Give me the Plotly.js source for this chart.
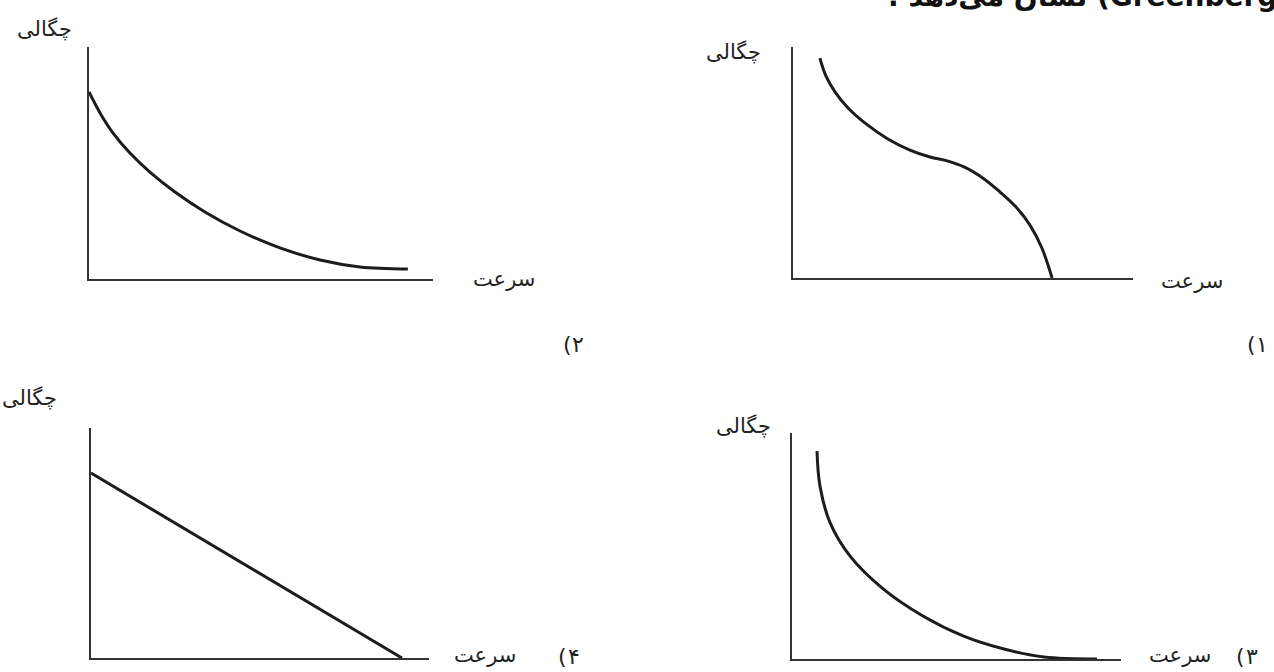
<!DOCTYPE html>
<html>
<head>
<meta charset="utf-8">
<script src="https://cdn.plot.ly/plotly-3.0.1.min.js"></script>
<style>
  body { margin: 0; background: #fff; }
  #chart { width: 1274px; height: 672px; }
</style>
</head>
<body>
<div id="chart"></div>
<script>
// labels
var yLabel = 'چگالی';
var xLabel = 'سرعت';
var optionDigits = ['۱', '۲', '۳', '۴'];
var topLine = '. نشان می‌دهد (Greenberg)';

// option 1 (top right): s-shaped curve
var curve1X = [0.79, 0.97, 1.24, 1.62, 2.15, 2.79, 3.44, 4.03, 4.56, 5.03, 5.62, 6.09, 6.56, 6.97, 7.32, 7.62];
var curve1Y = [9.52, 8.74, 8.05, 7.36, 6.67, 6.02, 5.54, 5.24, 5.06, 4.81, 4.29, 3.72, 3.07, 2.29, 1.30, 0];

// option 2 (top left): decaying curve
var curve2X = [0, 0.32, 0.70, 1.19, 1.77, 2.50, 3.37, 4.39, 5.55, 6.72, 7.88, 9.27];
var curve2Y = [8.06, 7.16, 6.29, 5.43, 4.61, 3.75, 2.89, 2.07, 1.34, 0.82, 0.52, 0.43];

// option 3 (bottom right): steep curve
var curve3X = [0.76, 0.85, 1.16, 1.76, 2.77, 3.98, 5.20, 6.44, 7.66, 9.27];
var curve3Y = [9.20, 7.65, 6.02, 4.56, 3.10, 1.90, 1.02, 0.44, 0.09, 0];

// option 4 (bottom left): straight line
var line4X = [0, 9.2];
var line4Y = [8.04, 0];

var W = 1274, H = 672;
function px(x) { return x / W; }
function py(y) { return 1 - y / H; }

var curveStyle = {color: '#1c1c1c', width: 3, shape: 'spline', smoothing: 1};

var data = [
    {x: curve1X, y: curve1Y, xaxis: 'x', yaxis: 'y', mode: 'lines', line: curveStyle, hoverinfo: 'none'},
    {x: curve2X, y: curve2Y, xaxis: 'x2', yaxis: 'y2', mode: 'lines', line: curveStyle, hoverinfo: 'none'},
    {x: curve3X, y: curve3Y, xaxis: 'x3', yaxis: 'y3', mode: 'lines', line: curveStyle, hoverinfo: 'none'},
    {x: line4X, y: line4Y, xaxis: 'x4', yaxis: 'y4', mode: 'lines', line: {color: '#1c1c1c', width: 3}, hoverinfo: 'none'}
];

// axis box in pixels: left, right, top, bottom
var boxes = [
    [793, 1133, 47, 278],
    [89, 433, 47, 279],
    [792, 1121, 433, 659],
    [91, 429, 428, 658]
];

function makeAxis(dom, anchor) {
    return {
        domain: dom,
        anchor: anchor,
        range: [0, 10],
        showline: true,
        linecolor: '#333',
        linewidth: 2,
        showgrid: false,
        zeroline: false,
        showticklabels: false,
        ticks: '',
        fixedrange: true
    };
}

var layout = {
    width: W,
    height: H,
    margin: {t: 0, b: 0, l: 0, r: 0},
    paper_bgcolor: '#fff',
    plot_bgcolor: 'rgba(0,0,0,0)',
    showlegend: false,
    annotations: []
};

var names = ['', '2', '3', '4'];
for (var i = 0; i < 4; i++) {
    var b = boxes[i];
    layout['xaxis' + names[i]] = makeAxis([px(b[0]), px(b[1])], 'y' + names[i]);
    layout['yaxis' + names[i]] = makeAxis([py(b[3]), py(b[2])], 'x' + names[i]);
}

var font = {family: 'DejaVu Sans', size: 21, color: '#222'};
var numFont = {family: 'DejaVu Sans', size: 22, color: '#222'};

// y labels (چگالی)
var yLabelPos = [[733, 52], [44, 29], [743, 426], [29, 398]];
// x labels (سرعت)
var xLabelPos = [[1192, 281], [504, 279], [1180, 655], [485, 655]];
// option numbers: bracket x, digit x, y
var optPos = [[1251, 1262, 344], [567, 578, 344], [1240, 1252, 656], [562, 574, 656]];

function addText(t, x, y, f) {
    layout.annotations.push({text: t, xref: 'paper', yref: 'paper', x: px(x), y: py(y),
        showarrow: false, xanchor: 'center', yanchor: 'middle', font: f});
}

for (var j = 0; j < 4; j++) {
    addText(yLabel, yLabelPos[j][0], yLabelPos[j][1], font);
    addText(xLabel, xLabelPos[j][0], xLabelPos[j][1], font);
    // bracket and digit kept apart so the bidi order can't flip them
    addText('(', optPos[j][0], optPos[j][2], numFont);
    addText(optionDigits[j], optPos[j][1], optPos[j][2], numFont);
}

// cut-off sentence at the very top
layout.annotations.push({text: '<b>' + topLine + '</b>', xref: 'paper', yref: 'paper', x: px(1292), y: py(15),
    showarrow: false, xanchor: 'right', yanchor: 'bottom', font: {family: 'DejaVu Sans', size: 28, color: '#111'}});

Plotly.newPlot('chart', data, layout, {displayModeBar: false, staticPlot: true});
</script>
</body>
</html>
